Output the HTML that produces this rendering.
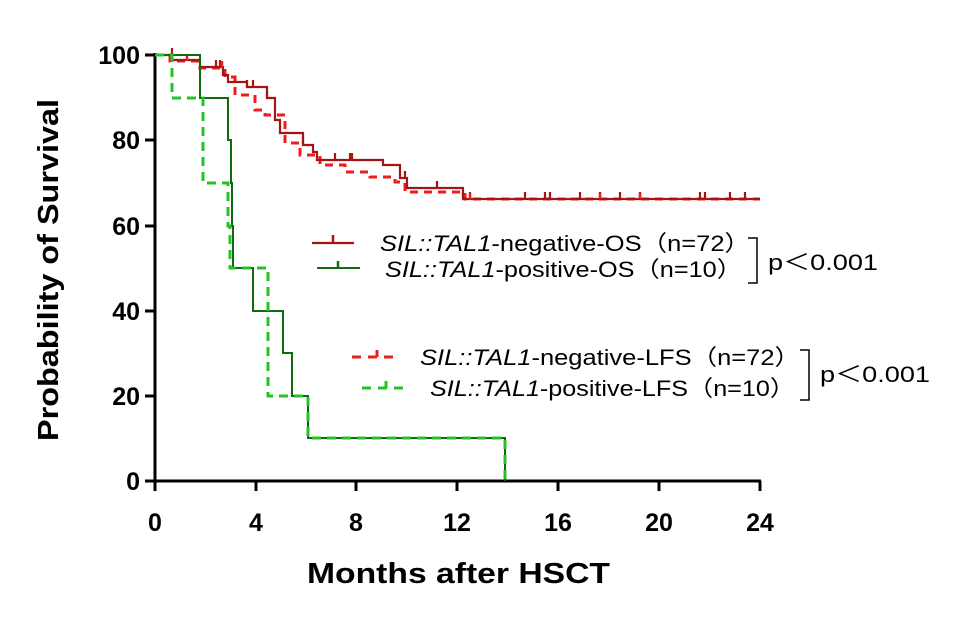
<!DOCTYPE html>
<html><head><meta charset="utf-8"><style>
body{margin:0;background:#fff}
svg{display:block}
text{font-family:"Liberation Sans",Arial,"Noto Sans CJK SC",sans-serif}
</style></head><body>
<svg width="960" height="620" viewBox="0 0 960 620" xmlns="http://www.w3.org/2000/svg">
<g stroke="#000" stroke-width="3" fill="none">
<line x1="155" y1="53" x2="155" y2="482"/>
<line x1="154" y1="481" x2="761" y2="481"/>
<line x1="145" y1="55" x2="155" y2="55"/>
<line x1="145" y1="140" x2="155" y2="140"/>
<line x1="145" y1="226" x2="155" y2="226"/>
<line x1="145" y1="311" x2="155" y2="311"/>
<line x1="145" y1="396" x2="155" y2="396"/>
<line x1="145" y1="481" x2="155" y2="481"/>
<line x1="155" y1="481" x2="155" y2="491"/>
<line x1="256" y1="481" x2="256" y2="491"/>
<line x1="356" y1="481" x2="356" y2="491"/>
<line x1="457" y1="481" x2="457" y2="491"/>
<line x1="558" y1="481" x2="558" y2="491"/>
<line x1="659" y1="481" x2="659" y2="491"/>
<line x1="760" y1="481" x2="760" y2="491"/>
</g>
<g font-size="25" font-weight="bold" text-anchor="end">
<text x="140" y="64">100</text><text x="140" y="149">80</text><text x="140" y="235">60</text>
<text x="140" y="320">40</text><text x="140" y="405">20</text><text x="140" y="490">0</text>
</g>
<g font-size="25" font-weight="bold" text-anchor="middle">
<text x="155" y="531">0</text><text x="256" y="531">4</text><text x="356" y="531">8</text>
<text x="457" y="531">12</text><text x="558" y="531">16</text><text x="659" y="531">20</text><text x="760" y="531">24</text>
</g>
<text x="307" y="583" font-size="29" font-weight="bold" textLength="303" lengthAdjust="spacingAndGlyphs">Months after HSCT</text>
<text transform="translate(58,270) rotate(-90)" font-size="29" font-weight="bold" text-anchor="middle" textLength="342" lengthAdjust="spacingAndGlyphs">Probability of Survival</text>

<path d="M155,55 H170 V61 H200 V68 H225 V77 H235 V95 H255 V110 H265 V115 H285 V143 H300 V155 H320 V165 H345 V172 H370 V177 H395 V182 H405 V192 H465 V199 H760" fill="none" stroke="#ee1c1c" stroke-width="3" stroke-dasharray="8,6"/>
<path d="M155,55 H172 V60 H200 V67 H223 V75 H228 V82 H247 V87 H267 V98 H275 V120 H280 V133 H303 V145 H313 V152 H317 V160 H383 V165 H400 V178 H407 V188 H463 V199 H760" fill="none" stroke="#a51515" stroke-width="2.2"/>
<g stroke="#a51515" stroke-width="2.2">
<path d="M172,55v-7M216,67v-7M220,67v-7M247,87v-7M253,87v-7M267,98v-7M303,145v-7M335,160v-7M350,160v-7M352,160v-7M405,178v-7M437,188v-7M463,199v-7M470,199v-7M525,199v-7M545,199v-7M550,199v-7M580,199v-7M600,199v-7M620,199v-7M640,199v-7M700,199v-7M705,199v-7M730,199v-7M745,199v-7"/>
</g>
<g stroke="#ee1c1c" stroke-width="2.5">
<path d="M187,61v-7M222,68v-7M470,199v-6M600,199v-6M640,199v-6"/>
</g>
<path d="M155,55 H200 V98 H228 V140 H231 V183 H232 V226 H233 V268 H253 V311 H283 V353 H292 V396 H308 V438 H505 V481" fill="none" stroke="#0f6b0f" stroke-width="2"/>
<path d="M155,55 H172 V98 H203 V183 H228 V226 H230 V268 H268 V396 H308 V438 H505 V481" fill="none" stroke="#22c322" stroke-width="3" stroke-dasharray="9,6"/>

<line x1="312" y1="243" x2="354" y2="243" stroke="#a51515" stroke-width="2.2"/>
<line x1="333" y1="243" x2="333" y2="235" stroke="#a51515" stroke-width="2.5"/>
<line x1="317" y1="268" x2="360" y2="268" stroke="#0f6b0f" stroke-width="2"/>
<line x1="338" y1="268" x2="338" y2="261" stroke="#0f6b0f" stroke-width="2.5"/>
<line x1="352" y1="357" x2="396" y2="357" stroke="#ee1c1c" stroke-width="3" stroke-dasharray="9,7"/>
<line x1="377" y1="357" x2="377" y2="350" stroke="#ee1c1c" stroke-width="3"/>
<line x1="362" y1="388" x2="406" y2="388" stroke="#22c322" stroke-width="3" stroke-dasharray="9,7"/>
<line x1="386" y1="388" x2="386" y2="381" stroke="#22c322" stroke-width="3"/>
<g font-size="22">
<text x="380" y="251" textLength="370" lengthAdjust="spacingAndGlyphs"><tspan font-style="italic">SIL::TAL1</tspan>-negative-OS（n=72）</text>
<text x="385" y="277" textLength="357" lengthAdjust="spacingAndGlyphs"><tspan font-style="italic">SIL::TAL1</tspan>-positive-OS（n=10）</text>
<text x="420" y="365" textLength="380" lengthAdjust="spacingAndGlyphs"><tspan font-style="italic">SIL::TAL1</tspan>-negative-LFS（n=72）</text>
<text x="430" y="396" textLength="365" lengthAdjust="spacingAndGlyphs"><tspan font-style="italic">SIL::TAL1</tspan>-positive-LFS（n=10）</text>
<text x="768" y="270" textLength="110" lengthAdjust="spacingAndGlyphs">p＜0.001</text>
<text x="820" y="382" textLength="110" lengthAdjust="spacingAndGlyphs">p＜0.001</text>
</g>
<path d="M748,238 H757 V283 H748" fill="none" stroke="#000" stroke-width="1.5"/>
<path d="M800,350 H809 V400 H800" fill="none" stroke="#000" stroke-width="1.5"/>
</svg>
</body></html>
